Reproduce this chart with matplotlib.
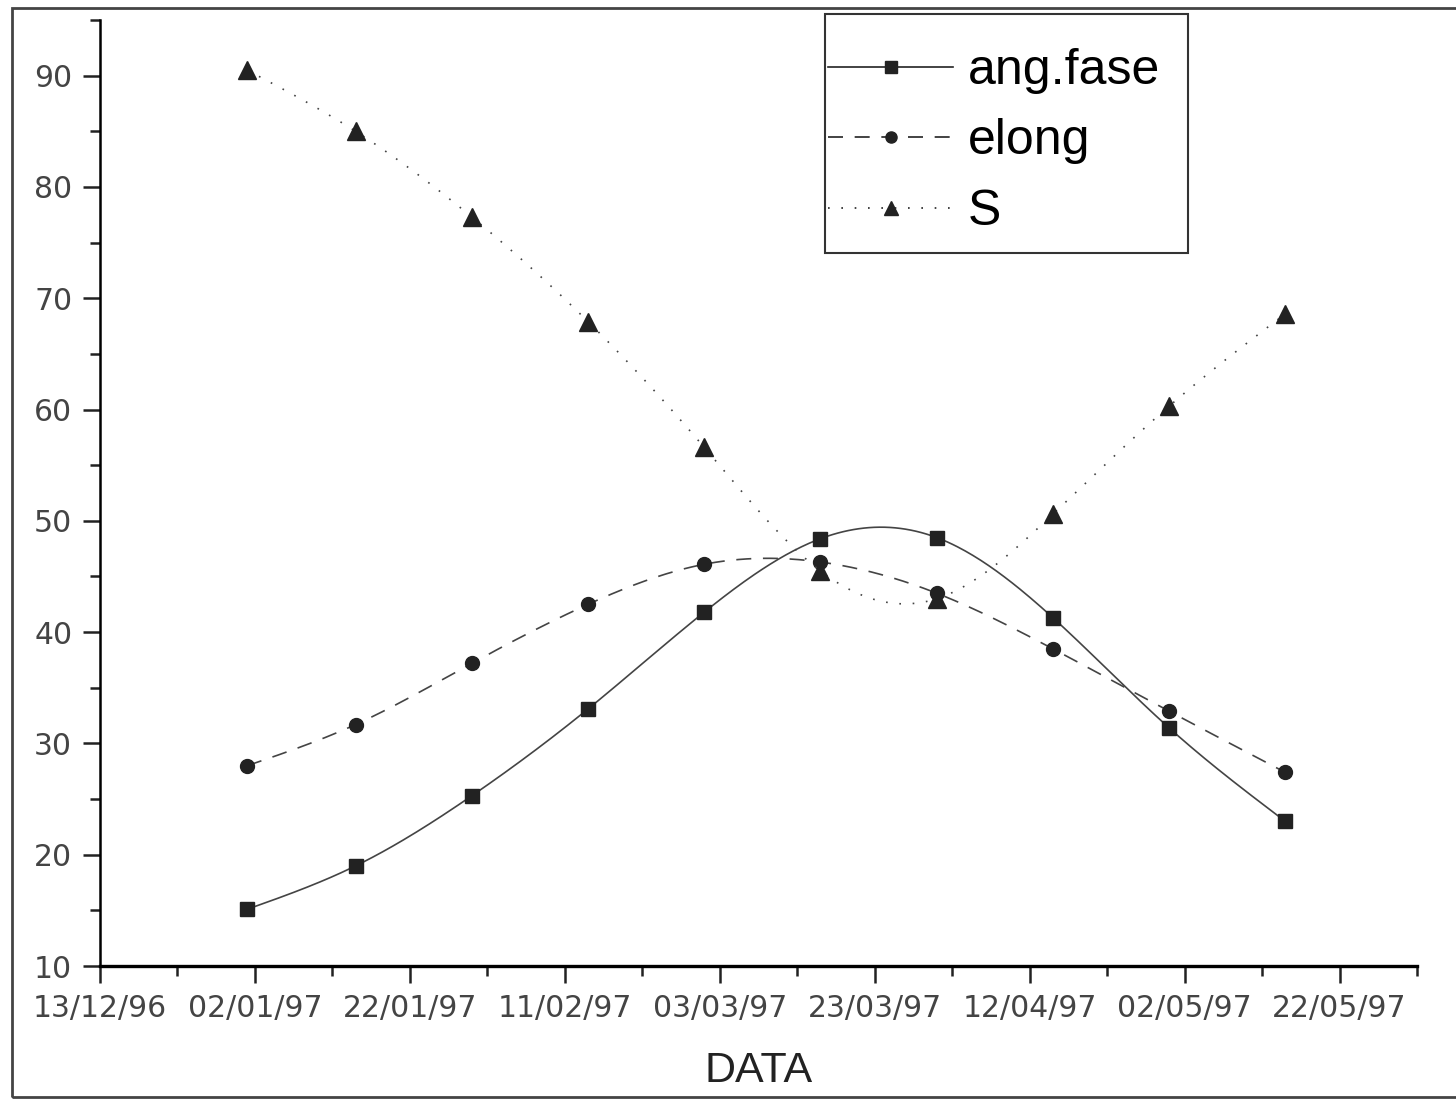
import numpy as np
import matplotlib
matplotlib.use("Agg")
import matplotlib.pyplot as plt
import matplotlib.dates as mdates
from matplotlib.patches import Rectangle
from datetime import datetime

# data
dates = ["01/01/97", "15/01/97", "30/01/97", "14/02/97", "01/03/97",
         "16/03/97", "31/03/97", "15/04/97", "30/04/97", "15/05/97"]
ang_fase = [15.1, 19.0, 25.3, 33.1, 41.8, 48.4, 48.5, 41.3, 31.4, 23.0]
elong = [28.0, 31.7, 37.2, 42.5, 46.1, 46.3, 43.5, 38.5, 32.9, 27.4]
S = [90.5, 85.0, 77.3, 67.9, 56.6, 45.5, 43.0, 50.6, 60.3, 68.6]

x_start = "13/12/96"
x_end = "01/06/97"

tick_font = ['DejaVu Sans']
text_font = ['Liberation Sans', 'DejaVu Sans']
ink = '#222222'


def to_num(s):
    return mdates.date2num(datetime.strptime(s, "%d/%m/%y"))


def spline(x, y, n=400):
    # natural cubic spline, just for drawing the connecting curve
    x = np.asarray(x, float)
    y = np.asarray(y, float)
    k = len(x)
    h = np.diff(x)
    A = np.zeros((k, k))
    b = np.zeros(k)
    A[0, 0] = A[-1, -1] = 1
    for i in range(1, k - 1):
        A[i, i - 1] = h[i - 1]
        A[i, i] = 2 * (h[i - 1] + h[i])
        A[i, i + 1] = h[i]
        b[i] = 6 * ((y[i + 1] - y[i]) / h[i] - (y[i] - y[i - 1]) / h[i - 1])
    M = np.linalg.solve(A, b)
    xs = np.linspace(x[0], x[-1], n)
    idx = np.clip(np.searchsorted(x, xs) - 1, 0, k - 2)
    x0, x1 = x[idx], x[idx + 1]
    hh = x1 - x0
    t0, t1 = x1 - xs, xs - x0
    ys = (M[idx] * t0**3 + M[idx + 1] * t1**3) / (6 * hh) \
        + (y[idx] / hh - M[idx] * hh / 6) * t0 \
        + (y[idx + 1] / hh - M[idx + 1] * hh / 6) * t1
    return xs, ys


xd = np.array([to_num(d) for d in dates])

W, H = 1456, 1101
fig = plt.figure(figsize=(W / 100, H / 100), dpi=100)
ax = fig.add_axes([0.0687, 0.1226, 0.9045, 0.8592])

# outer frame of the scanned page
fig.patches.append(Rectangle((0.008, 0.004), 1.2, 0.989, transform=fig.transFigure,
                             fill=False, lw=2, ec='#444444'))

series = [
    (ang_fase, 's', '-', 'ang.fase', 10),
    (elong, 'o', (0, (9, 7)), 'elong', 10),
    (S, '^', (0, (1, 7)), 'S', 13),
]
for vals, mk, ls, lab, ms in series:
    xs, ys = spline(xd, vals)
    ax.plot(xs, ys, ls=ls, color='#444444', lw=1.2)
    ax.plot(xd, vals, mk, color=ink, ms=ms, ls='none')
    # proxy for legend
    ax.plot([], [], ls=ls, marker=mk, color=ink, lw=1.2, ms=ms * 0.8, label=lab)

x0, x1 = to_num(x_start), to_num(x_end)
ax.set_xlim(x0, x1)
ax.set_ylim(10, 95)
ax.set_xticks(np.arange(x0, x1 - 1, 20))
ax.set_xticks(np.arange(x0, x1 + 1, 10), minor=True)
ax.xaxis.set_major_formatter(mdates.DateFormatter('%d/%m/%y'))
ax.set_yticks(np.arange(10, 91, 10))
ax.set_yticks(np.arange(10, 96, 5), minor=True)

for side in ['top', 'right']:
    ax.spines[side].set_visible(False)
ax.spines['left'].set_linewidth(1.8)
ax.spines['bottom'].set_linewidth(2.4)
ax.tick_params(which='major', direction='out', length=12, width=1.8, colors=ink,
               labelcolor='#444444', pad=8)
ax.tick_params(which='minor', direction='out', length=7, width=1.8, colors=ink)
for lab in ax.get_xticklabels() + ax.get_yticklabels():
    lab.set_family(tick_font)
    lab.set_fontsize(21.5)

ax.set_xlabel('DATA', fontsize=31, family=text_font, color=ink, labelpad=20)

leg = ax.legend(loc='upper left', bbox_to_anchor=(828 / W, 1 - 48 / H),
                bbox_transform=fig.transFigure, prop={'family': text_font, 'size': 36},
                frameon=False, handlelength=2.5, handletextpad=0.3,
                labelspacing=0.49, borderpad=0, borderaxespad=0)
# legend box as in the original
fig.patches.append(Rectangle((825 / W, 1 - 253 / H), (1188 - 825) / W, (253 - 14) / H,
                             transform=fig.transFigure, fill=False, lw=1.5,
                             ec='#333333', zorder=5))

fig.savefig('out.png', dpi=100)
